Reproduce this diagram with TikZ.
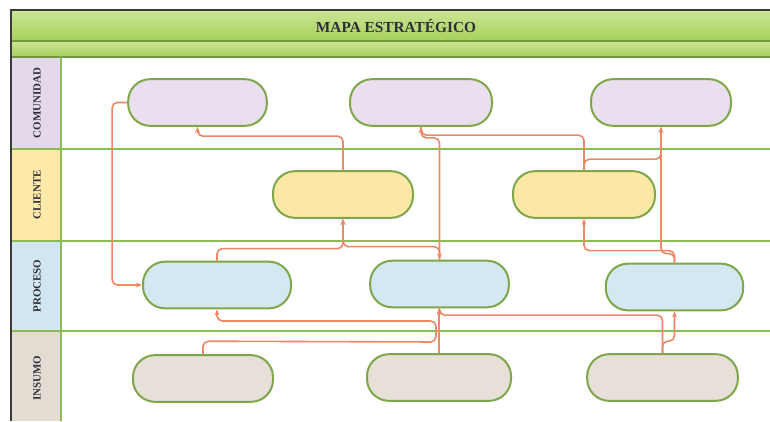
\documentclass[tikz,border=0pt]{standalone}
\usepackage{fontspec}
\setmainfont{Liberation Serif}
\usetikzlibrary{arrows.meta}
\definecolor{bandtop}{HTML}{CCE696}
\definecolor{bandbot}{HTML}{A6CF5A}
\definecolor{bandline}{HTML}{6F9A3C}
\definecolor{laneline}{HTML}{8DBB55}
\definecolor{framecol}{HTML}{3A3A3A}
\definecolor{colcom}{HTML}{E4D9EA}
\definecolor{colcli}{HTML}{FDE9A8}
\definecolor{colpro}{HTML}{D1E6EF}
\definecolor{colins}{HTML}{E2DCD3}
\definecolor{nodecom}{HTML}{E9DFEF}
\definecolor{nodecli}{HTML}{FCE8A4}
\definecolor{nodepro}{HTML}{D3E8F0}
\definecolor{nodeins}{HTML}{E6E0D8}
\definecolor{nodeborder}{HTML}{7FA64A}
\definecolor{linkcol}{HTML}{EE8866}
\definecolor{labeltext}{HTML}{2E2E3A}
\begin{document}
\begin{tikzpicture}[x=0.75pt,y=-0.75pt,
  pill/.style={rectangle, rounded corners=16.5pt, draw=nodeborder, line width=1.5pt, minimum height=35pt, inner sep=0pt},
  lanelabel/.style={rotate=90, font=\fontsize{8.2}{9}\selectfont\bfseries, text=labeltext, inner sep=0pt},
  lane/.style={draw=laneline, line width=1.1pt},
  link/.style={draw=linkcol, line width=1.2pt, rounded corners=4pt},
  arr/.style={-{Stealth[length=4.5pt,width=3.6pt]}}
]
\useasboundingbox (0,0) rectangle (770,421);
\fill[white] (0,0) rectangle (770,421);
% header bands
\shade[top color=bandtop, bottom color=bandbot] (11,10) rectangle (770,41);
\shade[top color=bandtop, bottom color=bandbot] (11,41) rectangle (770,57);
% lane label column
\fill[colcom] (12,57) rectangle (61,149);
\fill[colcli] (12,149) rectangle (61,241);
\fill[colpro] (12,241) rectangle (61,331);
\fill[colins] (12,331) rectangle (61,421);
% lines
\draw[draw=bandline, line width=1pt] (11,41) -- (770,41);
\draw[draw=bandline, line width=1pt] (11,57) -- (770,57);
\draw[lane] (11,149) -- (770,149);
\draw[lane] (11,241) -- (770,241);
\draw[lane] (11,331) -- (770,331);
\draw[lane] (61,57) -- (61,421);
\draw[draw=framecol, line width=1.6pt] (11,421) -- (11,10) -- (770,10);
% texts
\node[font=\fontsize{11.5}{13}\selectfont\bfseries, text=labeltext] (title) at (396,26) {MAPA ESTRATÉGICO};
\node[lanelabel] (lcom) at (37,103) {COMUNIDAD};
\node[lanelabel] (lcli) at (37,195) {CLIENTE};
\node[lanelabel] (lpro) at (37,286) {PROCESO};
\node[lanelabel] (lins) at (37,378) {INSUMO};
% nodes
\node[pill, fill=nodecom, minimum width=104pt] (C1) at (197.5,102.5) {};
\node[pill, fill=nodecom, minimum width=106.5pt] (C2) at (421,102.5) {};
\node[pill, fill=nodecom, minimum width=105pt] (C3) at (661,102.5) {};
\node[pill, fill=nodecli, minimum width=105pt] (K1) at (343,194.5) {};
\node[pill, fill=nodecli, minimum width=106.5pt] (K2) at (584,194.5) {};
\node[pill, fill=nodepro, minimum width=111pt] (P1) at (217,285) {};
\node[pill, fill=nodepro, minimum width=104pt] (P2) at (439.5,284) {};
\node[pill, fill=nodepro, minimum width=103pt] (P3) at (674.5,287) {};
\node[pill, fill=nodeins, minimum width=105pt] (I1) at (203,378.5) {};
\node[pill, fill=nodeins, minimum width=108pt] (I2) at (439,377.5) {};
\node[pill, fill=nodeins, minimum width=113pt] (I3) at (662.5,377.5) {};
% connectors
\draw[link,arr] (C1.west) -- ++(-15,0) |- (P1.west);
\draw[link,arr] (K1.north) -- ++(0,-34) -| (C1.south);
\draw[link,arr] (P1.north) -- ++(0,-12) -| (K1.south);
\draw[link,arr] (P2.north) -- ++(0,-13) -| (K1.south);
\draw[link,arr] (C2.south) -- ++(0,11) -| (P2.north);
\draw[link,arr] (K2.north) -- ++(0,-35) -| (C2.south);
\draw[link,arr] (K2.north) -- ++(0,-11) -| (C3.south);
\draw[link,arr] (P3.north) -- ++(0,-9) -| (C3.south);
\draw[link,arr] (P3.north) -- ++(0,-12) -| (K2.south);
\draw[link,arr] (I1.north) -- ++(0,-13) -- (436,342) -- (436,321) -| (P1.south);
\draw[link,arr] (I2.north) -- (I2.north |- P2.south);
\draw[link,arr] (I3.north) -- ++(0,-38) -| (P2.south);
\draw[link,arr] (I3.north) -- ++(0,-12) -| (P3.south);
\end{tikzpicture}
\end{document}
